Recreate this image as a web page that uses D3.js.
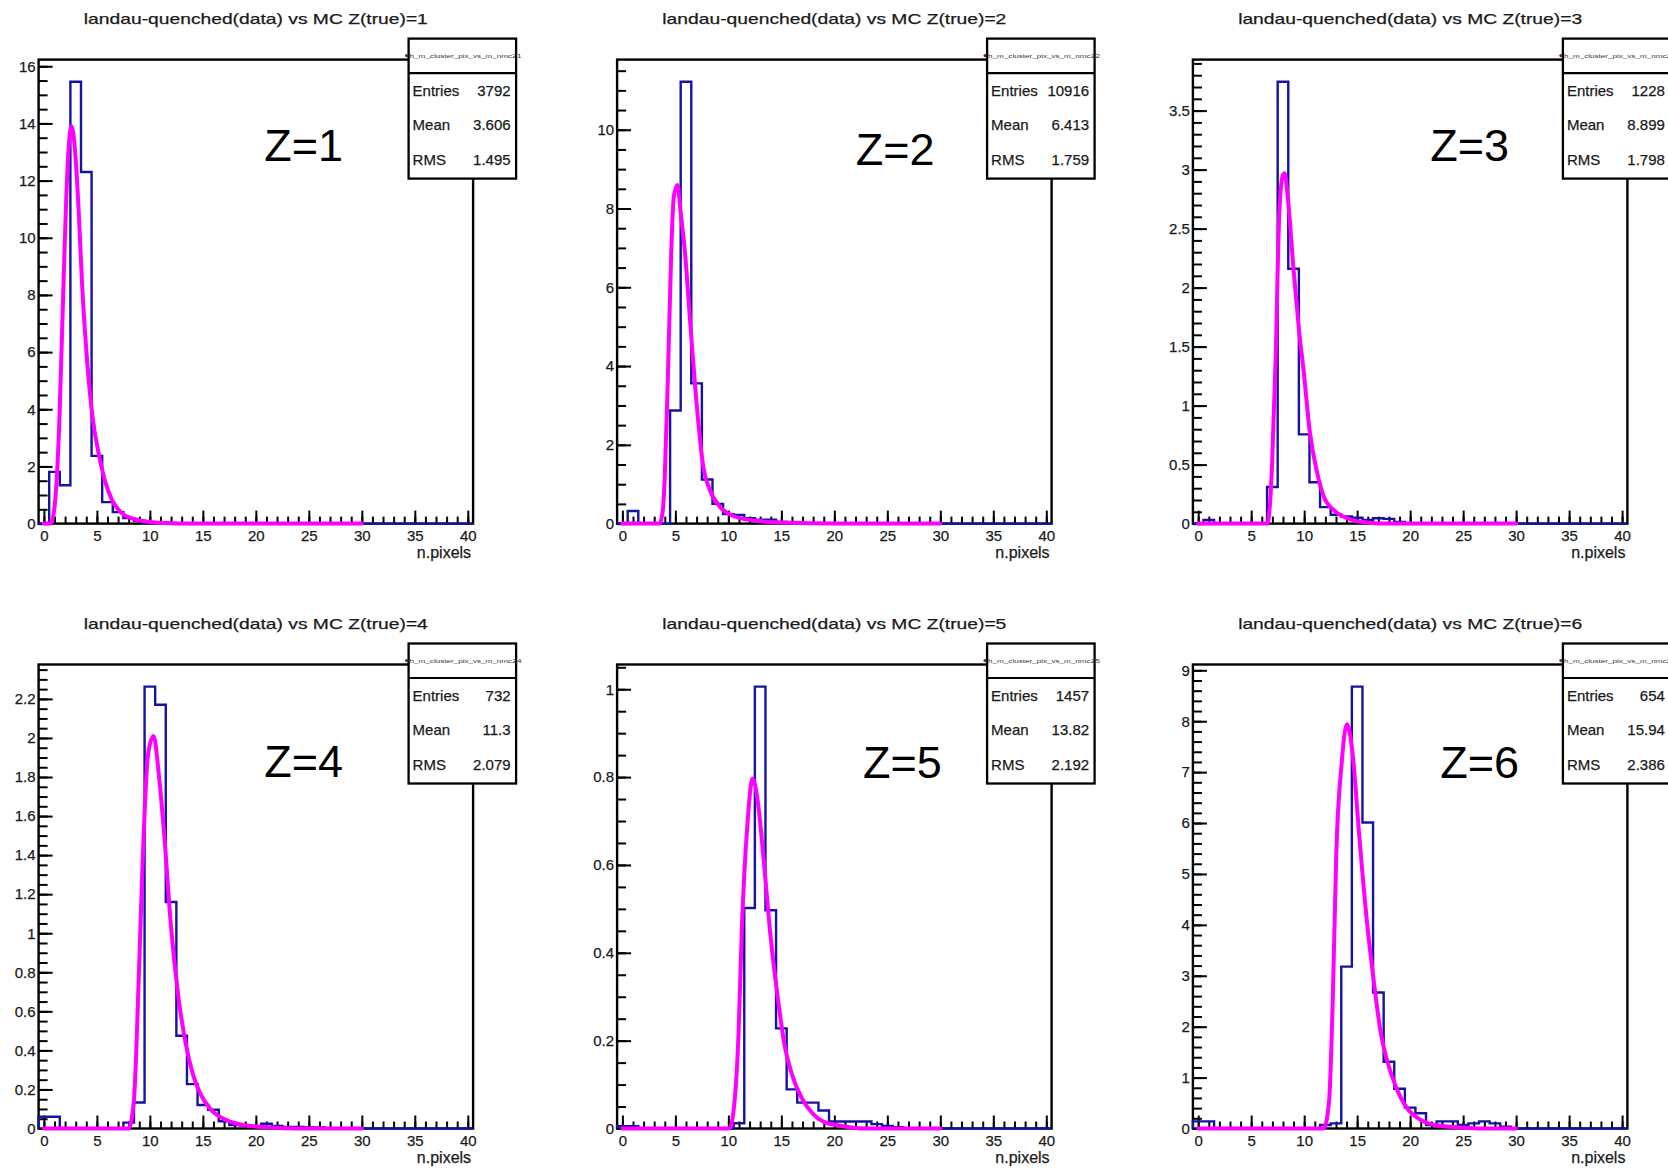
<!DOCTYPE html>
<html><head><meta charset="utf-8">
<script src="https://cdn.jsdelivr.net/npm/d3@7"></script>
<style>body{margin:0;background:#fff}svg{display:block}</style>
</head><body>
<svg id="c" width="1668" height="1168"></svg>
<script>
// ---------- data ----------
const zValues = [1, 2, 3, 4, 5, 6];
const titles = zValues.map(z => "landau-quenched(data) vs MC Z(true)=" + z);
const zLabels = zValues.map(z => "Z=" + z);
const statEntries = ["3792", "10916", "1228", "732", "1457", "654"];
const statMean = ["3.606", "6.413", "8.899", "11.3", "13.82", "15.94"];
const statRMS = ["1.495", "1.759", "1.798", "2.079", "2.192", "2.386"];
const histName = "h_m_cluster_pix_vs_m_nmcZ";
const xTicks = [0, 5, 10, 15, 20, 25, 30, 35, 40];
const xMinorTicks = d3.range(0, 41, 1);
const xLabel = "n.pixels";

// bin contents, bins centred on 0..40 (width 1)
const histZ1 = [0,1.81,1.34,15.46,12.3,2.37,0.75,0.4,0.19,0.1,
  0.05,0.03,0.02,0.01,0,0,0,0,0,0,
  0,0,0,0,0,0,0,0,0,0,
  0,0,0,0,0,0,0,0,0,0,0];
const histZ2 = [0,0.32,0,0,0,2.87,11.22,3.56,1.12,0.5,
  0.24,0.22,0.14,0.1,0.1,0.04,0.02,0.01,0,0,
  0,0,0,0,0,0,0,0,0,0,
  0,0,0,0,0,0,0,0,0,0,0];
const histZ3 = [0,0.03,0,0,0,0,0,0.31,3.745,2.16,
  0.756,0.35,0.14,0.075,0.06,0.05,0.03,0.045,0.04,0.015,
  0,0,0,0,0,0,0,0,0,0,
  0,0,0,0,0,0,0,0,0,0,0];
const histZ4 = [0.06,0.06,0,0,0,0,0,0,0.03,0.133,
  2.263,2.17,1.16,0.475,0.227,0.12,0.096,0.037,0.018,0.015,
  0.01,0.024,0.013,0.008,0.008,0.005,0.005,0,0,0,
  0,0,0,0,0,0,0,0,0,0,0];
const histZ5 = [0.005,0.005,0,0,0,0,0,0,0,0,
  0,0.012,0.502,1.006,0.497,0.228,0.089,0.059,0.059,0.041,
  0.016,0.016,0.016,0.016,0.01,0.006,0.003,0,0,0,
  0,0,0,0,0,0,0,0,0,0,0];
const histZ6 = [0.14,0.14,0,0,0,0,0,0,0,0,
  0,0,0.07,0.1,3.18,8.68,6.01,2.67,1.31,0.78,
  0.41,0.3,0.07,0.14,0.14,0.07,0.1,0.14,0.1,0.035,
  0,0,0,0,0,0,0,0,0,0,0];

// fitted MC curves [x, y]
const fitZ1 = [[0,0],[0.6,0],[0.9,0.3],[1.2,1.5],[1.45,3.5],[1.7,6.5],[1.95,9.6],[2.25,12.6],[2.6,13.9],[2.95,13.0],[3.3,10.8],[3.6,8.4],[4.1,5.6],[4.6,3.7],[5.2,2.4],[5.8,1.45],[6.4,0.85],[7.0,0.5],[7.6,0.3],[8.4,0.17],[9.2,0.1],[10.5,0.04],[12,0.015],[14,0],[30,0]];
const fitZ2 = [[0,0],[3.5,0],[3.8,0.3],[4.0,1.2],[4.3,3.8],[4.6,6.8],[4.85,8.3],[5.2,8.6],[5.5,7.9],[5.9,6.9],[6.4,5.1],[7.07,2.85],[7.6,1.5],[8.25,0.86],[9.26,0.41],[10.6,0.18],[12.6,0.07],[16,0.02],[20,0.005],[30,0]];
const fitZ3 = [[0,0],[6.5,0],[6.8,0.2],[6.97,0.5],[7.31,1.4],[7.64,2.6],[7.98,2.95],[8.15,2.97],[8.49,2.73],[8.99,2.16],[9.5,1.65],[10.0,1.25],[10.5,0.8],[11.2,0.44],[11.85,0.23],[12.86,0.11],[14.2,0.04],[15.9,0.01],[18,0],[30,0]];
const fitZ4 = [[0,0],[8.0,0],[8.5,0.15],[9.0,0.85],[9.34,1.4],[9.84,1.92],[10.35,2.01],[10.85,1.81],[11.36,1.5],[12.0,1.03],[12.7,0.67],[13.4,0.43],[14.05,0.28],[14.7,0.185],[15.7,0.1],[17.1,0.046],[18.8,0.018],[21.1,0.006],[24,0],[30,0]];
const fitZ5 = [[0,0],[10.1,0],[10.6,0.066],[10.95,0.21],[11.28,0.46],[11.79,0.69],[12.29,0.797],[12.8,0.74],[13.3,0.62],[13.97,0.44],[14.65,0.3],[15.3,0.19],[16.0,0.123],[17.0,0.066],[18.0,0.033],[19.0,0.015],[20.4,0.007],[23,0],[30,0]];
const fitZ6 = [[0,0],[11.85,0],[12.36,0.57],[12.7,2.55],[13.03,5.4],[13.53,7.16],[14.04,7.94],[14.55,7.4],[15.2,5.74],[15.9,4.11],[16.6,2.84],[17.2,1.91],[17.9,1.28],[18.6,0.85],[19.6,0.43],[20.9,0.18],[22.6,0.06],[25.3,0.015],[27,0],[30,0]];

const yMajorStep = [2, 2, 0.5, 0.2, 0.2, 1];
const yMinorStep = [0.5, 0.5, 0.1, 0.05, 0.05, 0.2];

const hists = [histZ1, histZ2, histZ3, histZ4, histZ5, histZ6];
const fits = [fitZ1, fitZ2, fitZ3, fitZ4, fitZ5, fitZ6];

// ---------- layout ----------
const colLeft = [38.6, 617.1, 1192.9];
const rowTop = [59.6, 664.5];
const W = 434.5, H = 464;
const zLabelOffset = [[225.7, 101], [238.6, 105.4], [237.4, 101], [225.7, 112], [245.8, 113], [247.4, 113]];
const FONT = "'Liberation Sans', Arial, sans-serif";
const BLUE = "#1414a0", MAGENTA = "#ff00ff", INK = "#1a1a1a";

const svg = d3.select("#c");
svg.append("rect").attr("width", 1668).attr("height", 1168).attr("fill", "#fff");

function steps(step, max) {
  const n = Math.floor(max / step + 1e-9);
  return d3.range(0, n + 1).map(i => +(i * step).toFixed(4));
}

hists.forEach((hist, i) => {
  const c = i % 3, r = Math.floor(i / 3);
  const L = colLeft[c], T = rowTop[r];
  const x = d3.scaleLinear().domain([-0.5, 40.5]).range([L, L + W]);
  const ymax = 1.05 * d3.max(hist);
  const y = d3.scaleLinear().domain([0, ymax]).range([T + H, T]);
  const g = svg.append("g");

  // frame
  g.append("rect").attr("x", L).attr("y", T).attr("width", W).attr("height", H)
    .attr("fill", "none").attr("stroke", "#000").attr("stroke-width", 2.4);

  // y axis ticks
  const yMaj = steps(yMajorStep[i], ymax);
  const yMin = steps(yMinorStep[i], ymax);
  const gyMin = g.append("g").attr("transform", `translate(${L},0)`)
    .call(d3.axisLeft(y).tickValues(yMin).tickSize(-9).tickFormat(""));
  const gy = g.append("g").attr("transform", `translate(${L},0)`)
    .call(d3.axisLeft(y).tickValues(yMaj).tickSize(-14).tickPadding(3)
      .tickFormat(d => d3.format("~g")(d)));
  // x axis ticks
  const gxMin = g.append("g").attr("transform", `translate(0,${T + H})`)
    .call(d3.axisBottom(x).tickValues(xMinorTicks).tickSize(-7).tickFormat(""));
  const gx = g.append("g").attr("transform", `translate(0,${T + H})`)
    .call(d3.axisBottom(x).tickValues(xTicks).tickSize(-13).tickPadding(7));
  [gyMin, gy, gxMin, gx].forEach(a => {
    a.select(".domain").remove();
    a.selectAll("line").attr("stroke", "#000").attr("stroke-width", 2);
    a.selectAll("text").attr("font-family", FONT).attr("font-size", 15).attr("fill", INK)
      .attr("stroke", INK).attr("stroke-width", 0.25);
  });

  // histogram (step outline)
  const pts = [[-0.5, 0]].concat(hist.map((v, k) => [k - 0.5, v]), [[40.5, hist[40]], [40.5, 0]]);
  g.append("path").datum(pts)
    .attr("d", d3.line().x(d => x(d[0])).y(d => y(d[1])).curve(d3.curveStepAfter))
    .attr("fill", "none").attr("stroke", BLUE).attr("stroke-width", 2.4)
    .attr("stroke-linejoin", "miter");

  // fit curve
  g.append("path").datum(fits[i])
    .attr("d", d3.line().x(d => x(d[0])).y(d => y(d[1])).curve(d3.curveMonotoneX))
    .attr("fill", "none").attr("stroke", MAGENTA).attr("stroke-width", 4)
    .attr("stroke-linejoin", "round").attr("stroke-linecap", "round");

  // x label
  g.append("text").attr("x", L + W - 2).attr("y", T + H + 34).attr("text-anchor", "end")
    .attr("font-family", FONT).attr("font-size", 16).attr("fill", INK)
    .attr("stroke", INK).attr("stroke-width", 0.25).text(xLabel);

  // title
  g.append("text").attr("x", L + W / 2).attr("y", T - 36).attr("text-anchor", "middle")
    .attr("font-family", FONT).attr("font-size", 15).attr("fill", INK)
    .attr("stroke", INK).attr("stroke-width", 0.25)
    .attr("textLength", 344).attr("lengthAdjust", "spacingAndGlyphs").text(titles[i]);

  // stat box
  const bL = L + W - 64.5, bW = 107.5, bT = T - 21, bB = T + 119;
  const sb = g.append("g");
  sb.append("rect").attr("x", bL).attr("y", bT).attr("width", bW).attr("height", bB - bT)
    .attr("fill", "#fff").attr("stroke", "#000").attr("stroke-width", 2.3);
  sb.append("line").attr("x1", bL).attr("x2", bL + bW).attr("y1", T + 13.5).attr("y2", T + 13.5)
    .attr("stroke", "#000").attr("stroke-width", 2.1);
  sb.append("circle").attr("cx", bL - 2).attr("cy", T - 4).attr("r", 1.6).attr("fill", "#6a2020");
  sb.append("text").attr("x", bL + 1).attr("y", T - 2).attr("font-family", FONT).attr("font-size", 6)
    .attr("fill", "#334").attr("textLength", 112).attr("lengthAdjust", "spacingAndGlyphs")
    .text(histName + zValues[i]);
  const rows = [["Entries", statEntries[i]], ["Mean", statMean[i]], ["RMS", statRMS[i]]];
  const rowY = [31, 65, 100];
  rows.forEach((rw, j) => {
    sb.append("text").attr("x", bL + 4).attr("y", T + rowY[j] + 5)
      .attr("font-family", FONT).attr("font-size", 15).attr("fill", INK)
      .attr("stroke", INK).attr("stroke-width", 0.25).text(rw[0]);
    sb.append("text").attr("x", bL + bW - 5.5).attr("y", T + rowY[j] + 5).attr("text-anchor", "end")
      .attr("font-family", FONT).attr("font-size", 15).attr("fill", INK)
      .attr("stroke", INK).attr("stroke-width", 0.25).text(rw[1]);
  });

  // Z annotation
  g.append("text").attr("x", L + zLabelOffset[i][0]).attr("y", T + zLabelOffset[i][1])
    .attr("font-family", FONT).attr("font-size", 45).attr("fill", "#000").text(zLabels[i]);
});
</script>
</body></html>
